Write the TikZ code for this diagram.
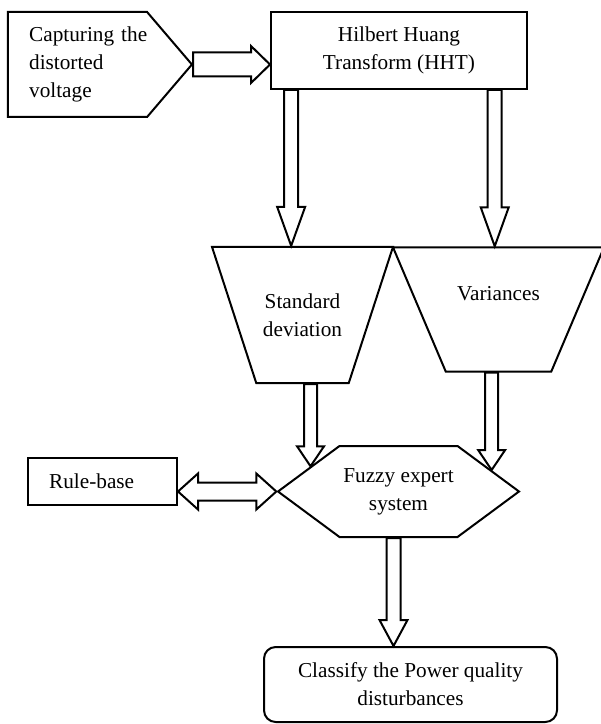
\documentclass[tikz,border=0pt]{standalone}
\usepackage{fontspec}
\setmainfont{Liberation Serif}
\usetikzlibrary{shapes.geometric, shapes.symbols, positioning, calc}
\tikzset{
    box/.style={draw, line width=1.2pt, fill=white, align=center, inner sep=2pt, font=\fontsize{12.75}{16.8}\selectfont},
    rectbox/.style={box, rectangle},
    trapbox/.style={box, trapezium, trapezium stretches body=true, inner xsep=0pt},
    pointbox/.style={box, signal},
    blockarrow/.style={draw, line width=1.2pt, fill=white}
}
% hollow block arrow: shaft half width, head half width, head length, from, to
\newcommand{\fatarrow}[5]{%
    \coordinate (fa) at ($(#5)!#3!(#4)$);
    \draw[blockarrow] ($(#4)!#1!90:(#5)$) -- ($(fa)!#1!90:(#5)$) -- ($(fa)!#2!90:(#5)$) -- (#5)
        -- ($(fa)!#2!-90:(#5)$) -- ($(fa)!#1!-90:(#5)$) -- ($(#4)!#1!-90:(#5)$) -- cycle;}
% same with a head at both ends
\newcommand{\fatdblarrow}[5]{%
    \coordinate (fa) at ($(#4)!#3!(#5)$);
    \coordinate (fb) at ($(#5)!#3!(#4)$);
    \draw[blockarrow] (#4) -- ($(fa)!#2!90:(#5)$) -- ($(fa)!#1!90:(#5)$) -- ($(fb)!#1!90:(#5)$) -- ($(fb)!#2!90:(#5)$) -- (#5)
        -- ($(fb)!#2!-90:(#5)$) -- ($(fb)!#1!-90:(#5)$) -- ($(fa)!#1!-90:(#5)$) -- ($(fa)!#2!-90:(#5)$) -- cycle;}

\begin{document}
\begin{tikzpicture}[x=0.6pt, y=-0.6pt]
    \useasboundingbox (0,0) rectangle (600,724);
    \node [pointbox, signal to=east, signal pointer angle=99, minimum width=110.4pt, minimum height=63pt, text width=58pt, align=left] (capture) at (77.5,64.5) {\mbox{Capturing the}\\distorted\\voltage};
    \node [rectbox, minimum width=153.6pt, minimum height=46.2pt] (hht) at (399,50.5) {Hilbert Huang\\Transform (HHT)};
    \node [trapbox, trapezium left angle=108, trapezium right angle=108, minimum width=108.6pt, inner ysep=28pt] (sd) at (302.5,315) {Standard\\deviation};
    \node [trapbox, trapezium left angle=113, trapezium right angle=113, minimum width=126.6pt, text depth=19.8pt, inner ysep=23.2pt] (var) at (498.5,309.5) {Variances};
    \node [rectbox, minimum width=89.4pt, minimum height=28.2pt, text width=64pt, align=left] (rule) at (102.5,481.5) {Rule-base};
    \node [pointbox, signal to=east and west, signal pointer angle=73, minimum width=144.6pt, minimum height=54.6pt] (fuzzy) at (398.5,491.5) {Fuzzy expert\\system};
    \node [rectbox, rounded corners=7pt, minimum width=175.8pt, minimum height=45pt] (classify) at (410.5,684.5) {Classify the Power quality\\disturbances};

    \coordinate (c1) at (capture.east);
    \coordinate (c2) at (capture.east -| hht.west);
    \coordinate (h1) at ($(hht.south west)!0.082!(hht.south east)$);
    \coordinate (h2) at (h1 |- sd.north);
    \coordinate (h3) at ($(hht.south west)!0.871!(hht.south east)$);
    \coordinate (h4) at (h3 |- var.north);
    \coordinate (f1) at (fuzzy.164);
    \coordinate (s1) at (sd.south -| f1);
    \coordinate (f2) at (fuzzy.13);
    \coordinate (v1) at (var.south -| f2);
    \coordinate (r1) at (fuzzy.west -| rule.east);
    \coordinate (r2) at (fuzzy.west);
    \coordinate (f3) at ([xshift=-3pt]fuzzy.south);
    \coordinate (k1) at (f3 |- classify.north);

    \fatarrow{7.2pt}{11.1pt}{11.4pt}{c1}{c2}
    \fatarrow{4.2pt}{8.4pt}{23.4pt}{h1}{h2}
    \fatarrow{4.2pt}{8.4pt}{23.4pt}{h3}{h4}
    \fatarrow{3.9pt}{8.1pt}{12pt}{s1}{f1}
    \fatarrow{3.9pt}{8.1pt}{12pt}{v1}{f2}
    \fatdblarrow{5.4pt}{10.8pt}{12pt}{r1}{r2}
    \fatarrow{4.2pt}{8.4pt}{15.6pt}{f3}{k1}
\end{tikzpicture}
\end{document}
